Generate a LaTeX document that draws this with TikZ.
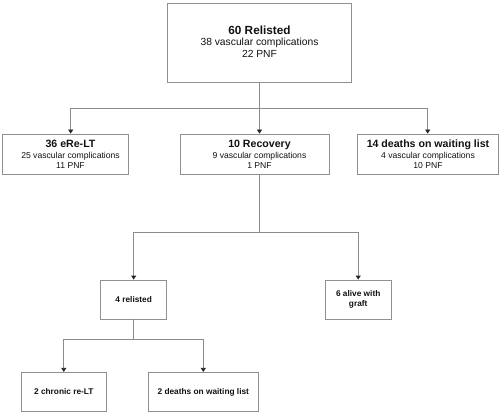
\documentclass[tikz,border=0pt]{standalone}
\usepackage{fontspec}
\setmainfont{Liberation Sans}
\usetikzlibrary{arrows.meta}
\definecolor{linegray}{HTML}{8C8C8C}
\definecolor{boxgray}{HTML}{909090}
\definecolor{txt}{HTML}{111111}
\newcommand{\fs}[2]{\fontsize{#1}{#2}\selectfont}
\begin{document}
\begin{tikzpicture}[x=1pt,y=-1pt,
  box/.style={draw=boxgray,line width=0.8pt,inner sep=0pt,rectangle},
  lbl/.style={inner sep=0pt,align=center,text=txt},
  toplbl/.style={lbl,font=\fs{10.3}{11.5}},
  midlbl/.style={lbl,font=\fs{8.6}{10.3}},
  lowlbl/.style={lbl,font=\fs{8.3}{10}\bfseries},
  conn/.style={draw=linegray,line width=0.8pt},
  arr/.style={conn,-{Triangle[length=4pt,width=5pt,color=black!85]}}]
\useasboundingbox (0,0) rectangle (500,414);
% boxes
\node[box,minimum width=184pt,minimum height=79pt] (top) at (259,42.5) {};
\node[box,minimum width=126pt,minimum height=40pt] (b1) at (65,154) {};
\node[box,minimum width=149pt,minimum height=40pt] (b2) at (254.5,154) {};
\node[box,minimum width=141pt,minimum height=40pt] (b3) at (428.3,154) {};
\node[box,minimum width=66pt,minimum height=39pt] (r4) at (133.7,299.5) {};
\node[box,minimum width=66pt,minimum height=39pt] (al) at (358.2,299.5) {};
\node[box,minimum width=84.3pt,minimum height=39.4pt] (ch) at (63.8,392) {};
\node[box,minimum width=110pt,minimum height=39.4pt] (dw) at (203.3,392) {};
% texts
\node[toplbl] (topt) at (259.5,41.5) {{\fs{11.8}{14}\bfseries 60 Relisted}\\38 vascular complications\\22 PNF};
\node[midlbl] (b1t) at (70.5,154.5) {{\fs{10.6}{12}\bfseries 36 eRe-LT}\\25 vascular complications\\11 PNF};
\node[midlbl] (b2t) at (259.5,154.5) {{\fs{10.6}{12}\bfseries 10 Recovery}\\9 vascular complications\\1 PNF};
\node[midlbl] (b3t) at (428,154.5) {{\fs{10.6}{12}\bfseries 14 deaths on waiting list}\\4 vascular complications\\10 PNF};
\node[lowlbl] (r4t) at (r4) {4 relisted};
\node[lowlbl] (alt) at (al) {6 alive with\\graft};
\node[lowlbl] (cht) at (ch) {2 chronic re-LT};
\node[lowlbl] (dwt) at (dw) {2 deaths on waiting list};
% junctions
\coordinate (j1) at (259.5,108);
\coordinate (j2) at (259.5,232.3);
\coordinate (j3) at (133.7,339.3);
% connectors
\draw[conn] (top.south -| j1) -- (j1);
\draw[arr] (j1) -| ([xshift=5.7pt]b1.north);
\draw[arr] (j1) -- (b2.north -| j1);
\draw[arr] (j1) -| ([xshift=-0.6pt]b3.north);
\draw[conn] (b2.south -| j2) -- (j2);
\draw[arr] (j2) -| (r4.north);
\draw[arr] (j2) -| (al.north);
\draw[conn] (r4.south) -- (j3);
\draw[arr] (j3) -| (ch.north);
\draw[arr] (j3) -| (dw.north);
\end{tikzpicture}
\end{document}
